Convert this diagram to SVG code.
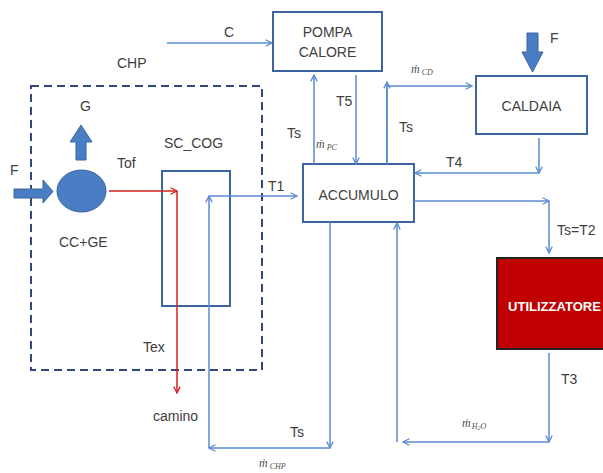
<svg xmlns="http://www.w3.org/2000/svg" width="603" height="473" viewBox="0 0 603 473">
<defs>
<style>
.box{fill:#fff;stroke:#3B64A0;stroke-width:2}
.ln{fill:none;stroke:#5B8BD0;stroke-width:1.5}
.red{fill:none;stroke:#D42020;stroke-width:1.5}
.blk{fill:#4A7EC4;stroke:#3B64A0;stroke-width:1}
.t{font-family:"Liberation Sans",Arial,sans-serif;font-size:14px;fill:#404040}
.m{font-family:"Liberation Serif","Times New Roman",serif;font-style:italic;font-size:12px;fill:#505050}
.s{font-size:8px}
</style>
<marker id="a" viewBox="0 0 10 10" refX="9" refY="5" markerWidth="8" markerHeight="8" markerUnits="userSpaceOnUse" orient="auto">
<path d="M1,1 L9,5 L1,9" fill="none" stroke="#5B8BD0" stroke-width="1.6"/>
</marker>
<marker id="ar" viewBox="0 0 10 10" refX="9" refY="5" markerWidth="8" markerHeight="8" markerUnits="userSpaceOnUse" orient="auto">
<path d="M1,1 L9,5 L1,9" fill="none" stroke="#D42020" stroke-width="1.6"/>
</marker>
</defs>
<rect width="603" height="473" fill="#fff"/>

<g id="chp-boundary">
<rect x="31" y="86" width="231" height="284" fill="none" stroke="#2F4A78" stroke-width="2" stroke-dasharray="8,5"/>
<text class="t" x="117" y="68">CHP</text>
</g>

<g id="cc-ge">
<ellipse cx="81.5" cy="191" rx="24.5" ry="21" fill="#4A7EC4" stroke="#3B64A0" stroke-width="1"/>
<text class="t" x="59" y="247">CC+GE</text>
</g>

<g id="g-out">
<path class="blk" d="M76,160 L76,142 L70,142 L81,125 L92,142 L86,142 L86,160 Z"/>
<text class="t" x="80" y="111">G</text>
</g>

<g id="f-in">
<path class="blk" d="M14,189 L43,189 L43,180 L53,191.5 L43,203 L43,198 L14,198 Z"/>
<text class="t" x="10" y="175">F</text>
</g>

<g id="sc-cog">
<rect class="box" x="162" y="171" width="68" height="135"/>
<text class="t" x="164" y="148">SC_COG</text>
</g>

<g id="pompa">
<rect class="box" x="273" y="12" width="109" height="59"/>
<text class="t" x="327.5" y="37" text-anchor="middle">POMPA</text>
<text class="t" x="327.5" y="57" text-anchor="middle">CALORE</text>
</g>

<g id="accumulo">
<rect class="box" x="303" y="164" width="111" height="58"/>
<text class="t" x="358.5" y="200" text-anchor="middle">ACCUMULO</text>
</g>

<g id="caldaia">
<rect class="box" x="476" y="76" width="111" height="58"/>
<text class="t" x="531.5" y="111" text-anchor="middle">CALDAIA</text>
</g>

<g id="f-caldaia">
<path class="blk" d="M527,33 L538,33 L538,52 L543,52 L532.5,72 L522,52 L527,52 Z"/>
<text class="t" x="550" y="43">F</text>
</g>

<g id="utilizzatore">
<rect x="497" y="258" width="120" height="91" fill="#C00000" stroke="#222" stroke-width="2"/>
<text x="508" y="311" textLength="93" lengthAdjust="spacingAndGlyphs" font-family="Liberation Sans,Arial,sans-serif" font-size="13.5" font-weight="bold" fill="#fff">UTILIZZATORE</text>
</g>

<g id="connectors">
<line class="ln" x1="167" y1="43" x2="272" y2="43" marker-end="url(#a)"/>
<text class="t" x="224" y="37">C</text>

<polyline class="red" points="109,191 177,191" marker-end="url(#ar)"/>
<polyline class="red" points="177,191 177,393" marker-end="url(#ar)"/>
<text class="t" x="117" y="168">Tof</text>
<text class="t" x="143" y="352">Tex</text>
<text class="t" x="153" y="421">camino</text>

<polyline class="ln" points="209,448 209,196" marker-end="url(#a)"/>
<polyline class="ln" points="209,196 297,196" marker-end="url(#a)"/>
<text class="t" x="268" y="191">T1</text>

<polyline class="ln" points="330,222 330,448" marker-end="url(#a)"/>
<polyline class="ln" points="330,448 209,448" marker-end="url(#a)"/>
<text class="t" x="290" y="437">Ts</text>
<text class="m" x="259" y="467">ṁ<tspan class="s" dx="2" dy="2">CHP</tspan></text>

<polyline class="ln" points="314,164 314,75" marker-end="url(#a)"/>
<text class="t" x="287" y="138">Ts</text>
<text class="m" x="316" y="148">ṁ<tspan class="s" dx="2" dy="2">PC</tspan></text>

<polyline class="ln" points="356,75 356,164" marker-end="url(#a)"/>
<text class="t" x="336" y="106">T5</text>

<polyline class="ln" points="387,164 387,86 472,86" marker-end="url(#a)"/>
<polyline class="ln" points="387,164 387,82" marker-end="url(#a)"/>
<text class="t" x="399" y="132">Ts</text>
<text class="m" x="411" y="73">ṁ<tspan class="s" dx="2" dy="2">CD</tspan></text>

<polyline class="ln" points="539,138 539,173" marker-end="url(#a)"/>
<polyline class="ln" points="539,173 415,173" marker-end="url(#a)"/>
<text class="t" x="446" y="167">T4</text>

<polyline class="ln" points="414,201 549,201" marker-end="url(#a)"/>
<polyline class="ln" points="549,201 549,253" marker-end="url(#a)"/>
<text class="t" x="557" y="235">Ts=T2</text>

<polyline class="ln" points="549,353 549,442" marker-end="url(#a)"/>
<polyline class="ln" points="549,442 403,442" marker-end="url(#a)"/>
<text class="t" x="561" y="384">T3</text>
<text class="m" x="462" y="427">ṁ<tspan class="s" dx="1" dy="2">H</tspan><tspan font-size="6" dy="1">2</tspan><tspan class="s" dy="-1">O</tspan></text>

<polyline class="ln" points="397,442 397,223" marker-end="url(#a)"/>
</g>
</svg>
